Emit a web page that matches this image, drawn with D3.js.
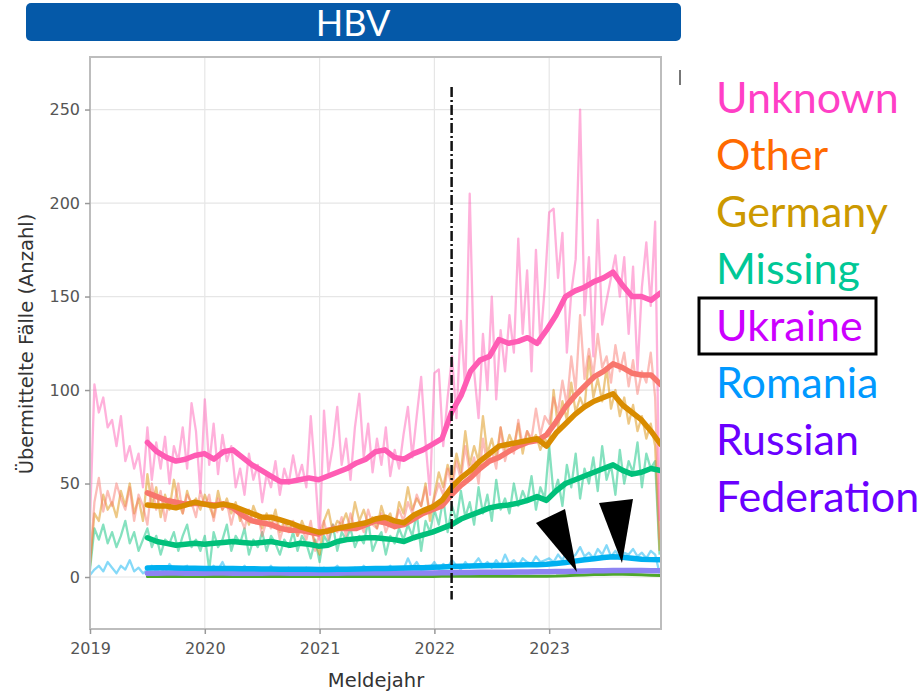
<!DOCTYPE html>
<html>
<head>
<meta charset="utf-8">
<script src="https://cdn.jsdelivr.net/npm/d3@7"></script>
<style>
    body { margin: 0; background: #fff; }
    svg { display: block; }
</style>
</head>
<body>
<div id="chart"></div>
<script>
const rawStart = 2019;
const rawStep = 1 / 26;

const unknownRaw = [
    30, 103, 88, 96, 80, 84, 70, 86, 62, 70, 58, 66, 48, 80, 52, 72, 58, 75, 50, 70, 62, 80, 58, 93, 78, 45,
    95, 60, 82, 55, 76, 62, 70, 48, 58, 44, 66, 52, 60, 40, 55, 48, 62, 44, 58, 50, 65, 52, 60, 48, 86, 55,
    20, 89, 56, 70, 91, 60, 74, 52, 80, 98, 64, 82, 56, 74, 60, 80, 54, 68, 58, 76, 91, 64, 86, 107, 72, 44,
    109, 111, 70, 96, 118, 85, 137, 100, 205, 110, 85, 130, 100, 150, 95, 132, 110, 140, 120, 181, 130, 164, 110, 175, 125, 155,
    195, 197, 160, 184, 120, 152, 170, 250, 140, 171, 118, 191, 135, 148, 160, 172, 150, 171, 130, 166, 110, 155, 179, 145, 190, 30
];
const otherRaw = [
    8, 40, 53, 35, 46, 38, 50, 42, 36, 48, 30, 44, 38, 28, 50, 36, 46, 30, 42, 38, 50, 34, 44, 40, 32, 46,
    38, 44, 30, 42, 36, 40, 28, 38, 32, 26, 36, 30, 34, 22, 30, 26, 32, 20, 28, 24, 30, 22, 26, 20, 30, 14,
    24, 30, 20, 28, 24, 32, 22, 34, 26, 30, 24, 36, 28, 26, 34, 24, 30, 28, 36, 30, 40, 34, 44, 38, 48, 34,
    42, 50, 44, 58, 48, 62, 52, 70, 56, 64, 50, 74, 60, 68, 58, 80, 62, 72, 66, 84, 70, 78, 74, 90, 76, 86,
    82, 96, 88, 105, 92, 118, 100, 140, 106, 122, 108, 130, 112, 118, 104, 124, 110, 120, 102, 116, 98, 110, 104, 120, 96, 20
];
const germanyRaw = [
    6, 34, 30, 44, 36, 40, 32, 46, 38, 50, 34, 42, 30, 55, 38, 48, 32, 44, 36, 52, 40, 34, 46, 38, 42, 36,
    44, 38, 32, 46, 36, 42, 34, 40, 30, 36, 28, 38, 32, 26, 34, 28, 36, 24, 30, 26, 28, 22, 30, 24, 26, 18,
    12, 30, 36, 24, 30, 28, 34, 26, 40, 30, 36, 28, 32, 26, 38, 30, 34, 26, 40, 34, 48, 36, 42, 38, 50, 30,
    44, 56, 48, 60, 52, 66, 56, 78, 60, 70, 62, 86, 66, 74, 64, 80, 68, 76, 70, 82, 66, 78, 72, 76, 68, 74,
    70, 100, 80, 94, 84, 104, 88, 96, 90, 118, 96, 106, 94, 112, 90, 100, 86, 96, 82, 92, 78, 86, 74, 82, 70, 14
];
const missingRaw = [
    4, 26, 20, 28, 18, 24, 16, 22, 30, 18, 24, 14, 20, 26, 16, 22, 12, 20, 18, 24, 14, 22, 28, 16, 20, 14,
    22, 4, 24, 16, 20, 28, 14, 22, 18, 26, 12, 20, 16, 24, 14, 22, 18, 12, 20, 16, 24, 14, 22, 18, 10, 20,
    8, 22, 18, 28, 14, 24, 20, 26, 16, 22, 18, 30, 14, 20, 24, 12, 22, 18, 26, 20, 28, 22, 34, 14, 30, 24,
    36, 28, 42, 24, 38, 30, 46, 32, 40, 28, 48, 34, 44, 30, 52, 36, 42, 34, 50, 38, 46, 40, 54, 36, 48, 42,
    70, 44, 52, 38, 60, 48, 66, 42, 58, 50, 64, 46, 70, 52, 60, 44, 68, 50, 62, 56, 72, 48, 66, 58, 62, 12
];
const romaniaRaw = [
    1, 4, 6, 3, 8, 5, 2, 6, 4, 9, 3, 5, 2, 4, 6, 3, 5, 2, 7, 4, 3, 5, 6, 2, 4, 3,
    5, 3, 6, 4, 8, 3, 5, 2, 4, 6, 3, 5, 2, 4, 3, 6, 2, 4, 3, 5, 2, 4, 3, 5, 2, 4,
    3, 5, 2, 4, 6, 3, 4, 2, 5, 3, 6, 4, 2, 5, 3, 4, 6, 3, 5, 4, 10, 5, 8, 4, 6, 5,
    8, 4, 7, 5, 9, 6, 4, 8, 5, 7, 10, 6, 8, 5, 9, 6, 12, 7, 9, 6, 10, 8, 7, 11, 8, 9,
    10, 8, 12, 9, 14, 10, 12, 16, 11, 13, 10, 15, 12, 17, 11, 14, 10, 13, 12, 15, 11, 13, 10, 14, 12, 2
];

const avgStart = 2019.5;
const avgEnd = 2023.97;

const unknownAvg = [72, 67, 64, 62, 63, 65, 66, 63, 67, 68, 64, 60, 57, 54, 51, 51, 52, 53, 52, 54,
    56, 58, 61, 63, 67, 68, 64, 63, 66, 68, 71, 74, 88, 97, 110, 116, 118, 127, 125, 126,
    128, 125, 132, 140, 150, 153, 155, 158, 160, 163, 156, 150, 150, 148, 152];
const otherAvg = [45, 43, 41, 40, 39, 39.5, 39, 38.5, 39, 37, 33, 30, 29, 28, 26, 25, 25, 24, 23, 25,
    26, 26, 26, 28, 30, 29, 27, 28, 31, 34, 36, 38, 44, 49, 53, 58, 62, 64, 67, 70,
    72, 73, 76, 83, 91, 97, 102, 107, 110, 114, 112, 109, 108, 108, 103];
const germanyAvg = [38.5, 38, 38, 37, 38.5, 40, 39, 38, 39, 38, 36, 34, 32, 32, 30.5, 29, 27, 25.5, 24, 24.5,
    26, 27, 28, 29, 31, 32, 30, 29, 33, 35.5, 37.5, 41, 48, 53, 57, 62, 66, 70, 71, 72,
    73, 74, 70, 77, 82, 87, 91, 94, 96, 98, 92, 88, 84, 78, 71];
const missingAvg = [21, 19, 18, 17, 17.5, 18, 17.5, 18, 18.5, 19, 18.5, 18, 18.5, 19, 18, 17, 18, 17.5, 16.5, 17,
    19, 20, 20.5, 21, 21, 20.5, 20, 19, 21, 22.5, 24, 26, 28, 31, 33, 35, 37, 38, 38.5, 39.5,
    41, 43, 41, 46, 50, 52, 54, 56, 58, 60, 57, 55, 56, 58, 57];
const romaniaAvg = [4.8, 4.9, 4.9, 4.8, 4.7, 4.7, 4.6, 4.6, 4.5, 4.5, 4.4, 4.4, 4.3, 4.3, 4.2, 4.2, 4.1, 4.1, 4.0, 4.0,
    4.1, 4.2, 4.3, 4.4, 4.5, 4.6, 4.7, 4.8, 4.9, 5.0, 5.2, 5.4, 5.6, 5.8, 5.9, 6.0, 6.1, 6.2, 6.3, 6.4,
    6.5, 6.6, 6.8, 7.2, 7.8, 8.5, 9.2, 9.8, 10.4, 10.8, 10.6, 10.0, 9.5, 9.3, 9.2];
const russiaAvg = [2.0, 2.0, 2.1, 2.1, 2.0, 2.0, 2.0, 2.1, 2.1, 2.0, 2.0, 2.0, 2.0, 2.1, 2.1, 2.0, 2.0, 2.0, 2.0, 2.0,
    2.0, 2.1, 2.1, 2.1, 2.1, 2.1, 2.1, 2.2, 2.2, 2.2, 2.2, 2.3, 2.3, 2.4, 2.4, 2.5, 2.5, 2.6, 2.6, 2.7,
    2.7, 2.8, 2.8, 2.9, 3.0, 3.1, 3.2, 3.3, 3.4, 3.5, 3.5, 3.5, 3.5, 3.4, 3.4];
const ukraineAvg = [0.3, 0.3, 0.3, 0.3, 0.3, 0.3, 0.3, 0.3, 0.3, 0.3, 0.3, 0.3, 0.3, 0.3, 0.3, 0.3, 0.3, 0.3, 0.3, 0.3,
    0.3, 0.3, 0.3, 0.3, 0.3, 0.3, 0.3, 0.3, 0.3, 0.3, 0.3, 0.35, 0.35, 0.35, 0.35, 0.4, 0.4, 0.4, 0.4, 0.4,
    0.4, 0.45, 0.45, 0.5, 0.7, 0.9, 1.1, 1.3, 1.4, 1.5, 1.5, 1.4, 1.2, 1.0, 0.8];

const xTicks = [2019, 2020, 2021, 2022, 2023];
const yTicks = [0, 50, 100, 150, 200, 250];
const invasionDate = 2022.15;

const legendLabels = ['Unknown', 'Other', 'Germany', 'Missing', 'Ukraine', 'Romania', 'Russian Federation'];
const legendColors = ['#ff3fc6', '#ff6a00', '#cc9900', '#00c896', '#cc00ff', '#0099ff', '#6a00ff'];

// Pfeile (Datenkoordinaten)
const arrowShapes = [
    [[2022.885, 28.9], [2023.138, 36.4], [2023.242, 2.7]],
    [[2023.434, 39.6], [2023.730, 41.7], [2023.634, 7.5]]
];

const rawSeries = [
    { values: romaniaRaw, color: '#00b0f0' },
    { values: missingRaw, color: '#00c07a' },
    { values: germanyRaw, color: '#d98c00' },
    { values: otherRaw, color: '#f8766d' },
    { values: unknownRaw, color: '#ff5cb4' }
];
const avgSeries = [
    { values: ukraineAvg, color: '#4ea82a', width: 3 },
    { values: russiaAvg, color: '#8d84f2', width: 5.5 },
    { values: romaniaAvg, color: '#00b0f0', width: 5.5 },
    { values: missingAvg, color: '#00c07a', width: 5.5 },
    { values: otherAvg, color: '#f8766d', width: 5.5 },
    { values: germanyAvg, color: '#d98c00', width: 5.5 },
    { values: unknownAvg, color: '#ff5cb4', width: 5.5 }
];

const W = 924, H = 691;
const margin = { top: 57, left: 90 };
const width = 571, height = 572;

const svg = d3.select('#chart')
    .append('svg')
    .attr('width', W)
    .attr('height', H);

// Titelbalken
svg.append('rect')
    .attr('x', 26).attr('y', 3)
    .attr('width', 655).attr('height', 38)
    .attr('rx', 5)
    .style('fill', '#0559a8');

svg.append('text')
    .attr('x', 353).attr('y', 36)
    .attr('text-anchor', 'middle')
    .style('font-family', 'Lato, sans-serif')
    .style('font-size', '36px')
    .style('fill', '#fff')
    .text('HBV');

const g = svg.append('g')
    .attr('transform', `translate(${margin.left},${margin.top})`);

const x = d3.scaleLinear()
    .domain([2019, 2023.974])
    .range([0, width]);

const y = d3.scaleLinear()
    .domain([-27.8, 278.1])
    .range([height, 0]);

// Gitter
g.append('g')
    .selectAll('line')
    .data(yTicks)
    .enter()
    .append('line')
    .attr('x1', 0).attr('x2', width)
    .attr('y1', d => y(d)).attr('y2', d => y(d))
    .style('stroke', '#e6e6e6')
    .style('stroke-width', 1.2);

g.append('g')
    .selectAll('line')
    .data(xTicks)
    .enter()
    .append('line')
    .attr('x1', d => x(d)).attr('x2', d => x(d))
    .attr('y1', 0).attr('y2', height)
    .style('stroke', '#e6e6e6')
    .style('stroke-width', 1.2);

svg.append('defs')
    .append('clipPath')
    .attr('id', 'plot-clip')
    .append('rect')
    .attr('width', width)
    .attr('height', height);

const plot = g.append('g').attr('clip-path', 'url(#plot-clip)');

const rawLine = d3.line()
    .x((d, i) => x(rawStart + i * rawStep))
    .y(d => y(d));

rawSeries.forEach(s => {
    plot.append('path')
        .datum(s.values)
        .attr('d', rawLine)
        .attr('fill', 'none')
        .attr('stroke', s.color)
        .attr('stroke-opacity', 0.48)
        .attr('stroke-width', 2.3)
        .attr('stroke-linejoin', 'round');
});

avgSeries.forEach(s => {
    const step = (avgEnd - avgStart) / (s.values.length - 1);
    const avgLine = d3.line()
        .x((d, i) => x(avgStart + i * step))
        .y(d => y(d));
    plot.append('path')
        .datum(s.values)
        .attr('d', avgLine)
        .attr('fill', 'none')
        .attr('stroke', s.color)
        .attr('stroke-width', s.width)
        .attr('stroke-linejoin', 'round')
        .attr('stroke-linecap', 'round');
});

// Kriegsbeginn-Linie
g.append('line')
    .attr('x1', x(invasionDate)).attr('x2', x(invasionDate))
    .attr('y1', y(262)).attr('y2', y(-12))
    .style('stroke', '#111')
    .style('stroke-width', 2.5)
    .style('stroke-dasharray', '10,3,2,3');

// Rahmen
g.append('rect')
    .attr('width', width)
    .attr('height', height)
    .style('fill', 'none')
    .style('stroke', '#bdbdbd')
    .style('stroke-width', 2);

// Achsen
const yAxis = g.append('g')
    .call(d3.axisLeft(y).tickValues(yTicks).tickSize(5).tickPadding(5));
const xAxis = g.append('g')
    .attr('transform', `translate(0,${height})`)
    .call(d3.axisBottom(x).tickValues(xTicks).tickFormat(d3.format('d')).tickSize(5).tickPadding(9));

[xAxis, yAxis].forEach(ax => {
    ax.select('.domain').remove();
    ax.selectAll('.tick line').style('stroke', '#999').style('stroke-width', 1.5);
    ax.selectAll('.tick text')
        .style('font-family', '"DejaVu Sans", Verdana, sans-serif')
        .style('font-size', '16px')
        .style('fill', '#555');
});

svg.append('text')
    .attr('x', 376).attr('y', 687)
    .attr('text-anchor', 'middle')
    .style('font-family', '"DejaVu Sans", Verdana, sans-serif')
    .style('font-size', '19.5px')
    .style('fill', '#333')
    .text('Meldejahr');

svg.append('text')
    .attr('transform', 'translate(33,344) rotate(-90)')
    .attr('text-anchor', 'middle')
    .style('font-family', '"DejaVu Sans", Verdana, sans-serif')
    .style('font-size', '19.5px')
    .style('fill', '#333')
    .text('Übermittelte Fälle (Anzahl)');

// Pfeile
g.selectAll('.arrow')
    .data(arrowShapes)
    .enter()
    .append('path')
    .attr('class', 'arrow')
    .attr('d', d => 'M' + d.map(p => [x(p[0]), y(p[1])].join(',')).join('L') + 'Z')
    .style('fill', '#000');

// abgeschnittene Legende
svg.append('rect')
    .attr('x', 679).attr('y', 70)
    .attr('width', 2).attr('height', 15)
    .style('fill', '#777');

// Legende rechts
const legend = svg.append('g');
let line = 0;
legendLabels.forEach((label, i) => {
    const words = label === 'Russian Federation' ? label.split(' ') : [label];
    words.forEach(w => {
        legend.append('text')
            .attr('x', 716)
            .attr('y', 113 + line * 57)
            .style('font-family', 'Lato, sans-serif')
            .style('font-size', '43px')
            .style('fill', legendColors[i])
            .text(w);
        line++;
    });
});

const ukraineIndex = legendLabels.indexOf('Ukraine');
legend.append('rect')
    .attr('x', 699).attr('y', 298 + (ukraineIndex - 4) * 57)
    .attr('width', 177).attr('height', 56)
    .style('fill', 'none')
    .style('stroke', '#000')
    .style('stroke-width', 3);
</script>
</body>
</html>
